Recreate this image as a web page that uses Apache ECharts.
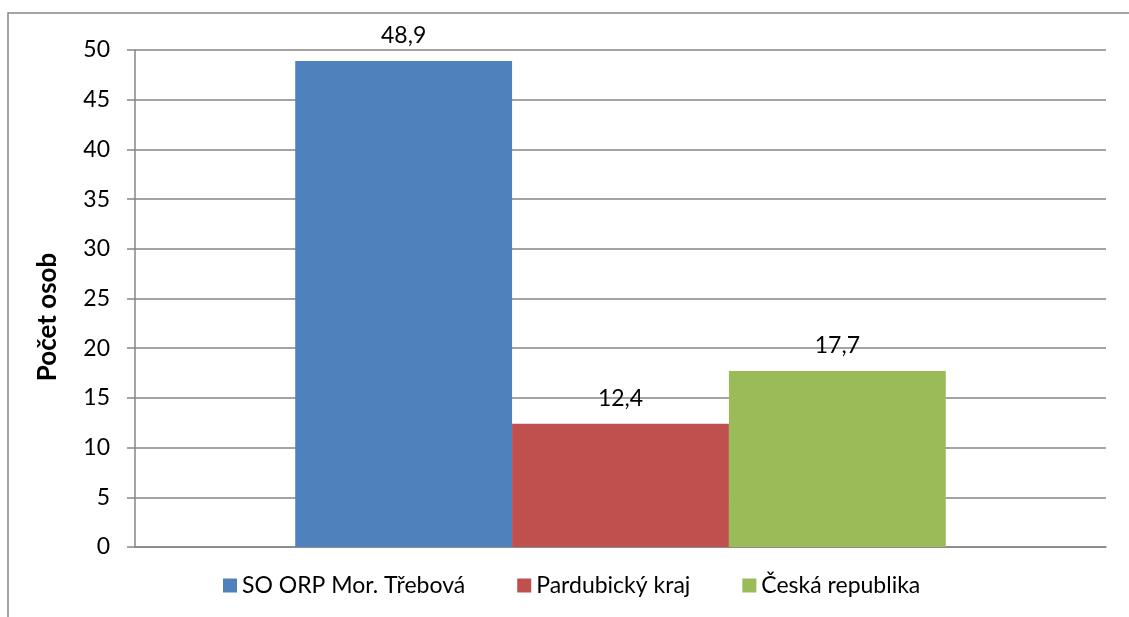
<!doctype html>
<html>
    <head>
        <meta charset="utf-8">
        <style>
            html, body { margin: 0; padding: 0; background: #fff; }
            #main { width: 1129px; height: 617px; }
        </style>
    </head>
    <body>
        <div id="main"></div>
        <script src="https://cdn.jsdelivr.net/npm/echarts@6/dist/echarts.min.js"></script>
        <script>
            var chart = echarts.init(document.getElementById('main'));

            var categories = [''];
            var seriesNames = ['SO ORP Mor. Třebová', 'Pardubický kraj', 'Česká republika'];
            var seriesValues = [48.9, 12.4, 17.7];
            var seriesColors = ['#4f81bd', '#c0504d', '#9bbb59'];
            var yTicks = { min: 0, max: 50, interval: 5 };
            var yTitle = 'Počet osob';

            var font = 'Lato, "Open Sans", sans-serif';
            var gray = '#868686';

            var series = seriesNames.map(function (name, i) {
                return {
                    name: name,
                    type: 'bar',
                    data: [seriesValues[i]],
                    barGap: 0,
                    barCategoryGap: '33%',
                    itemStyle: { color: seriesColors[i] },
                    label: {
                        show: true,
                        position: 'top',
                        distance: 14,
                        color: '#000',
                        fontFamily: font,
                        fontSize: 23,
                        formatter: function (p) {
                            return p.value.toFixed(1).replace('.', ',');
                        }
                    }
                };
            });

            chart.setOption({
                animation: false,
                textStyle: { fontFamily: font },
                graphic: [{
                    type: 'rect',
                    shape: { x: 8, y: 13, width: 2000, height: 2000 },
                    style: { fill: 'none', stroke: gray, lineWidth: 1.5 }
                }, {
                    type: 'text',
                    x: 48,
                    y: 317,
                    rotation: Math.PI / 2,
                    style: {
                        text: yTitle,
                        fontSize: 26,
                        fontWeight: 'bold',
                        fontFamily: font,
                        fill: '#000',
                        align: 'center',
                        verticalAlign: 'middle'
                    }
                }],
                grid: { left: 135, right: 23, top: 50, bottom: 70 },
                legend: {
                    top: 569,
                    left: 218,
                    itemWidth: 14,
                    itemHeight: 14,
                    itemGap: 52,
                    icon: 'rect',
                    textStyle: { fontSize: 23, color: '#000', fontFamily: font },
                    data: seriesNames
                },
                xAxis: {
                    type: 'category',
                    data: categories,
                    axisLine: { lineStyle: { color: gray, width: 1.5 } },
                    axisTick: { show: false },
                    axisLabel: { show: false }
                },
                yAxis: {
                    type: 'value',
                    min: yTicks.min,
                    max: yTicks.max,
                    interval: yTicks.interval,
                    axisLine: { show: true, lineStyle: { color: gray, width: 1.5 } },
                    axisTick: { show: true, length: 8, lineStyle: { color: gray, width: 1.5 } },
                    axisLabel: { fontSize: 23, color: '#000', margin: 25, fontFamily: font },
                    splitLine: { lineStyle: { color: gray, width: 1.5 } }
                },
                series: series
            });

            window.onresize = chart.resize;
        </script>
    </body>
</html>
